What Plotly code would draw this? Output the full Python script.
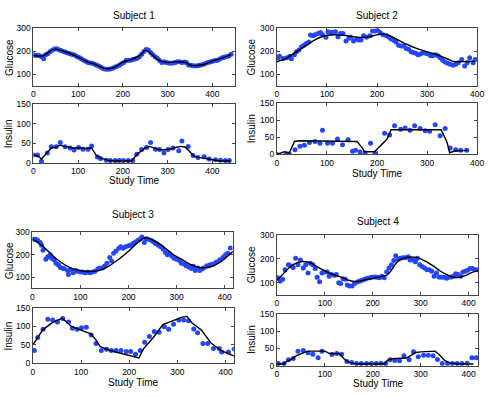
import plotly.graph_objects as go

# ---- Subject 1 ----
s1_glu_t = [0, 5, 10, 15, 20, 23, 27, 32, 37, 42, 47, 52, 57, 62, 67, 72, 77, 82, 87, 92,
            97, 102, 107, 112, 117, 122, 127, 132, 137, 142, 147, 152, 157, 162, 167, 172, 177, 182, 187, 192,
            197, 202, 207, 212, 217, 222, 227, 232, 237, 242, 247, 252, 257, 262, 267, 272, 277, 282, 287, 292,
            297, 302, 307, 312, 317, 322, 327, 332, 337, 342, 347, 352, 357, 362, 367, 372, 377, 382, 387, 392,
            397, 402, 407, 412, 417, 422, 427, 432, 437, 442]
s1_glu = [185, 182, 183, 180, 176, 168, 185, 190, 198, 205, 210, 212, 207, 204, 200, 196, 193, 190, 187, 184,
          178, 173, 168, 162, 157, 152, 150, 148, 144, 140, 136, 130, 125, 122, 122, 124, 127, 131, 135, 140,
          146, 152, 160, 162, 162, 165, 167, 170, 177, 188, 200, 208, 206, 195, 185, 177, 170, 160, 152, 155,
          152, 150, 148, 150, 152, 155, 155, 152, 154, 152, 141, 140, 138, 137, 138, 140, 142, 145, 150, 153,
          155, 158, 160, 162, 167, 172, 175, 178, 180, 188]
s1_glu_fit_t = [0, 20, 30, 40, 50, 60, 80, 100, 120, 140, 160, 180, 200, 220, 240, 250, 260, 280, 300,
                320, 340, 350, 360, 380, 400, 420, 442]
s1_glu_fit = [183, 180, 190, 205, 210, 205, 192, 175, 155, 142, 125, 130, 153, 165, 185, 205, 195, 162, 152,
              155, 152, 141, 138, 143, 158, 170, 186]
s1_ins_t = [0, 9, 18, 31, 40, 51, 60, 71, 82, 91, 101, 111, 122, 130, 143, 150, 163, 172, 183, 192, 201,
            212, 222, 231, 242, 253, 262, 273, 282, 292, 301, 312, 325, 332, 346, 357, 368, 382, 393, 407,
            418, 429, 438]
s1_ins = [20, 20, 4, 25, 41, 41, 52, 41, 38, 33, 39, 35, 35, 43, 15, 11, 7, 6, 6, 6, 6,
          6, 6, 22, 34, 39, 52, 35, 34, 25, 34, 38, 31, 56, 42, 19, 14, 16, 10, 8,
          7, 6, 6]
s1_ins_fit_t = [0, 10, 18, 30, 40, 50, 60, 70, 80, 90, 100, 110, 120, 130, 140, 150, 160, 170, 180, 200,
                220, 230, 240, 250, 260, 270, 280, 290, 300, 310, 320, 330, 340, 350, 360, 370, 380, 390,
                400, 410, 420, 430, 440]
s1_ins_fit = [20, 18, 10, 25, 38, 40, 45, 42, 40, 38, 38, 37, 37, 38, 20, 12, 8, 6, 5, 5,
              5, 20, 30, 38, 42, 38, 34, 33, 34, 36, 40, 42, 40, 28, 16, 14, 12, 10,
              7, 6, 5, 5, 5]

# ---- Subject 2 ----
s2_glu_t = [2, 5, 13, 20, 26, 29, 35, 39, 44, 49, 54, 59, 64, 67, 72, 76, 82, 87, 91, 98,
            102, 108, 113, 117, 122, 127, 132, 138, 144, 148, 153, 159, 163, 168, 173, 179, 186, 191, 196, 201,
            206, 212, 219, 224, 228, 233, 238, 243, 248, 253, 258, 263, 268, 272, 277, 282, 287, 292, 297, 302,
            307, 311, 317, 322, 326, 331, 336, 341, 346, 352, 357, 362, 369, 375, 380, 385, 392, 396]
s2_glu = [172, 179, 169, 172, 179, 168, 185, 199, 206, 220, 227, 234, 241, 271, 268, 272, 278, 282, 272, 261,
          285, 282, 282, 285, 264, 278, 278, 245, 257, 261, 245, 254, 250, 250, 268, 261, 268, 289, 289, 292,
          282, 272, 268, 261, 254, 248, 241, 227, 223, 223, 213, 209, 199, 195, 192, 185, 189, 195, 192, 189,
          181, 181, 185, 181, 172, 162, 154, 148, 144, 140, 144, 151, 165, 137, 151, 172, 151, 165]
s2_glu_fit_t = [0, 20, 40, 60, 80, 100, 120, 140, 160, 180, 200, 212, 225, 240, 260, 280, 300, 320, 340,
                350, 360, 380, 395]
s2_glu_fit = [155, 172, 200, 228, 255, 270, 272, 268, 262, 262, 272, 276, 268, 252, 230, 212, 198, 185, 168,
              158, 155, 156, 157]
s2_ins_t = [0, 18, 25, 36, 46, 55, 65, 76, 86, 91, 101, 111, 121, 131, 142, 151, 157, 166, 176, 187,
            196, 215, 225, 235, 247, 256, 266, 275, 286, 296, 305, 316, 326, 336, 346, 357, 367, 379]
s2_ins = [0, 0, 0, 14, 24, 27, 35, 38, 33, 71, 33, 33, 45, 28, 43, 9, 12, 7, 5, 33,
          3, 62, 57, 84, 74, 77, 71, 84, 76, 69, 68, 87, 55, 76, 19, 14, 12, 12]
s2_ins_fit_t = [0, 15, 25, 35, 45, 150, 160, 170, 175, 195, 200, 210, 220, 228, 240, 320, 328, 340,
                345, 355, 380]
s2_ins_fit = [0, 8, 5, 38, 40, 40, 38, 20, 8, 8, 15, 30, 45, 72, 72, 73, 72, 35,
              5, 10, 12]

# ---- Subject 3 ----
s3_glu_t = [2, 7, 11, 16, 19, 22, 28, 32, 37, 40, 45, 49, 54, 58, 63, 66, 73, 75, 80, 85,
            90, 94, 100, 105, 110, 115, 120, 125, 130, 136, 140, 146, 150, 155, 161, 165, 169, 174, 180, 184,
            189, 194, 200, 204, 209, 215, 220, 225, 228, 233, 237, 241, 247, 252, 256, 262, 267, 272, 277, 281,
            285, 290, 295, 300, 306, 310, 316, 320, 326, 331, 335, 339, 344, 348, 353, 356, 363, 370, 376, 383,
            390, 397, 402, 407, 412]
s3_glu = [268, 268, 264, 254, 242, 220, 180, 191, 199, 184, 177, 162, 155, 143, 140, 138, 129, 112, 133, 119,
          129, 126, 123, 123, 119, 123, 119, 123, 126, 136, 141, 141, 148, 162, 187, 172, 206, 216, 228, 235,
          228, 235, 239, 242, 249, 257, 264, 271, 278, 254, 271, 268, 264, 257, 249, 242, 235, 225, 210, 199,
          206, 194, 184, 180, 174, 162, 158, 151, 145, 138, 148, 130, 141, 129, 136, 141, 151, 155, 158, 167,
          177, 188, 199, 206, 230]
s3_glu_fit_t = [0, 20, 40, 60, 80, 100, 120, 140, 160, 180, 200, 220, 235, 250, 270, 290, 310, 330, 350,
                370, 390, 410, 418]
s3_glu_fit = [270, 240, 200, 165, 140, 128, 125, 130, 150, 180, 215, 255, 275, 265, 240, 205, 180, 155, 142,
              145, 165, 200, 215]
s3_ins_t = [3, 10, 21, 31, 41, 51, 62, 74, 82, 92, 101, 111, 121, 131, 142, 153, 163, 173, 183, 194,
            203, 213, 223, 232, 242, 252, 262, 273, 282, 292, 303, 313, 323, 334, 342, 353, 363, 375, 387,
            392, 406, 418]
s3_ins = [35, 70, 92, 119, 117, 112, 121, 112, 95, 92, 96, 98, 77, 54, 35, 38, 35, 35, 35, 32,
          32, 25, 35, 57, 73, 86, 84, 99, 92, 106, 117, 117, 115, 93, 83, 54, 54, 40, 40,
          31, 31, 39]
s3_ins_fit_t = [0, 20, 40, 60, 70, 80, 100, 120, 130, 140, 160, 180, 200, 220, 230, 250, 270, 290, 310,
                320, 330, 350, 370, 390, 410, 418]
s3_ins_fit = [50, 90, 110, 122, 112, 100, 90, 80, 65, 45, 35, 28, 22, 15, 40, 70, 105, 115, 125,
              127, 110, 90, 55, 35, 25, 20]

# ---- Subject 4 ----
s4_glu_t = [2, 7, 12, 17, 24, 29, 34, 39, 44, 49, 55, 60, 65, 70, 75, 80, 84, 89, 94, 99,
            105, 109, 114, 120, 124, 129, 133, 138, 143, 147, 152, 157, 162, 168, 173, 178, 183, 188, 194, 198,
            204, 209, 214, 219, 224, 229, 234, 239, 244, 248, 253, 258, 263, 268, 274, 278, 284, 289, 293, 298,
            303, 308, 313, 318, 323, 328, 333, 338, 343, 349, 354, 359, 364, 369, 373, 378, 383, 388, 393, 398,
            403, 408, 414, 419]
s4_glu = [120, 107, 114, 154, 175, 171, 164, 202, 175, 195, 161, 175, 141, 182, 175, 159, 123, 104, 141, 145,
          145, 127, 134, 131, 134, 100, 96, 116, 114, 90, 86, 86, 96, 103, 107, 110, 114, 118, 120, 123,
          124, 123, 120, 127, 120, 145, 161, 175, 193, 213, 199, 202, 205, 205, 209, 195, 195, 188, 202, 175,
          168, 161, 154, 154, 148, 127, 141, 124, 123, 123, 118, 123, 124, 127, 137, 134, 127, 145, 148, 152,
          159, 159, 154, 154]
s4_glu_fit_t = [0, 10, 20, 30, 40, 50, 60, 70, 80, 90, 100, 110, 120, 130, 140, 150, 160, 170, 180, 190,
                200, 210, 220, 230, 240, 250, 260, 270, 280, 290, 300, 310, 320, 330, 340, 350, 360, 370,
                380, 390, 400, 410, 420]
s4_glu_fit = [110, 130, 152, 170, 182, 188, 188, 183, 172, 160, 150, 140, 132, 126, 118, 110, 105, 106, 110, 114,
              118, 122, 127, 132, 155, 185, 200, 205, 208, 206, 200, 190, 178, 165, 150, 138, 128, 122,
              122, 128, 136, 145, 150]
s4_ins_t = [3, 15, 24, 34, 44, 55, 65, 75, 86, 94, 115, 125, 135, 146, 156, 166, 176, 187, 197, 207,
            217, 227, 236, 246, 256, 265, 276, 285, 295, 306, 316, 326, 335, 345, 356, 366, 376, 386, 397,
            407, 416]
s4_ins = [6, 6, 17, 21, 42, 44, 37, 33, 23, 42, 32, 35, 33, 12, 9, 6, 6, 6, 6, 6,
          7, 6, 17, 15, 14, 29, 17, 40, 26, 30, 30, 29, 18, 6, 6, 6, 6, 6, 7,
          23, 23]
s4_ins_fit_t = [0, 15, 20, 30, 40, 50, 60, 70, 100, 110, 130, 140, 150, 160, 170, 225, 230, 240, 270,
                280, 290, 300, 330, 340, 350, 360, 380, 410]
s4_ins_fit = [5, 5, 12, 18, 28, 35, 40, 42, 42, 35, 35, 20, 10, 6, 5, 5, 15, 20, 22,
              30, 38, 40, 42, 30, 15, 8, 5, 5]

titles = ["Subject 1", "Subject 2", "Subject 3", "Subject 4"]

subjects = [
    (s1_glu_t, s1_glu, s1_glu_fit_t, s1_glu_fit, s1_ins_t, s1_ins, s1_ins_fit_t, s1_ins_fit),
    (s2_glu_t, s2_glu, s2_glu_fit_t, s2_glu_fit, s2_ins_t, s2_ins, s2_ins_fit_t, s2_ins_fit),
    (s3_glu_t, s3_glu, s3_glu_fit_t, s3_glu_fit, s3_ins_t, s3_ins, s3_ins_fit_t, s3_ins_fit),
    (s4_glu_t, s4_glu, s4_glu_fit_t, s4_glu_fit, s4_ins_t, s4_ins, s4_ins_fit_t, s4_ins_fit),
]

W, H = 495, 397
# pixel boxes: (left, right, top, bottom) for glucose and insulin panels,
# then x max, title y, "Study Time" y
boxes = [
    ((32, 237, 24, 83), (32, 237, 101.5, 162), 450, 11, 180),
    ((280, 484, 24, 83), (280, 484, 100.7, 153.3), 400, 11, 172.5),
    ((31, 235, 233, 290.7), (31.5, 236, 310.7, 367.7), 417, 215, 387),
    ((280, 485, 236, 297), (280, 485, 316.7, 370), 420, 222, 388.5),
]

BLUE = "#2446ff"
FONT = "Liberation Sans, Arial, sans-serif"


def px_dom(box):
    l, r, t, b = box
    return [l / W, r / W], [1 - b / H, 1 - t / H]


def label(text, x, y, angle=0):
    return dict(text=text, x=x / W, y=1 - y / H, xref="paper", yref="paper",
                xanchor="center", yanchor="middle", showarrow=False, textangle=angle,
                font=dict(size=10, family=FONT, color="black"))


fig = go.Figure()
layout = {}
annotations = []

for i, (gt, g, gft, gf, it, ins, ift, inf) in enumerate(subjects):
    gbox, ibox, xmax, title_y, st_y = boxes[i]
    panels = [
        (gbox, gt, g, gft, gf, [50, 300], [100, 200, 300], "Glucose", "spline"),
        (ibox, it, ins, ift, inf, [0, 150], [0, 50, 100, 150], "Insulin", "linear"),
    ]
    for j, (box, xs, ys, fxs, fys, yr, ytv, ylabel, shape) in enumerate(panels):
        k = 2 * i + j + 1
        sx = "" if k == 1 else str(k)
        fig.add_trace(go.Scatter(x=xs, y=ys, mode="markers",
                                 marker=dict(color=BLUE, size=5),
                                 xaxis="x" + sx, yaxis="y" + sx, showlegend=False))
        fig.add_trace(go.Scatter(x=fxs, y=fys, mode="lines",
                                 line=dict(color="black", width=1.4, shape=shape),
                                 xaxis="x" + sx, yaxis="y" + sx, showlegend=False))
        xd, yd = px_dom(box)
        axcommon = dict(showline=True, linecolor="#444", linewidth=1, mirror="ticks",
                        ticks="inside", ticklen=3, tickcolor="#444", showgrid=False,
                        zeroline=False, tickfont=dict(size=8.5, color="black", family=FONT))
        layout["xaxis" + sx] = dict(domain=xd, range=[0, xmax], tickvals=[0, 100, 200, 300, 400],
                                    anchor="y" + sx, **axcommon)
        layout["yaxis" + sx] = dict(domain=yd, range=yr, tickvals=ytv,
                                    anchor="x" + sx, **axcommon)
        l, r, t, b = box
        lab_x = 7 if i % 2 == 0 else 254
        annotations.append(label(ylabel, lab_x, (t + b) / 2, -90))
    l, r, t, b = gbox
    annotations.append(label(titles[i], (l + r) / 2, title_y))
    l, r, t, b = ibox
    annotations.append(label("Study Time", (l + r) / 2, st_y))

fig.update_layout(width=W, height=H, margin=dict(l=0, r=0, t=0, b=0),
                  plot_bgcolor="white", paper_bgcolor="white",
                  annotations=annotations, showlegend=False, **layout)

# page body has a default 8px margin and may get scrollbars; drop both
fix_page = ("document.documentElement.style.margin='0';"
            "document.documentElement.style.overflow='hidden';"
            "document.body.style.margin='0';"
            "document.body.style.overflow='hidden';")
fig.write_html("out.html", config={"displayModeBar": False}, post_script=fix_page)
